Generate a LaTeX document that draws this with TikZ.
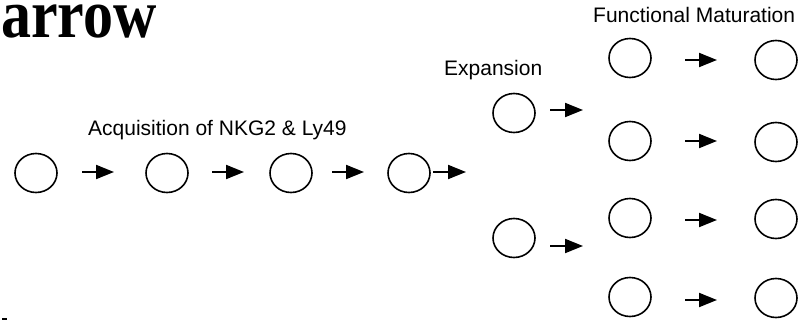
\documentclass[tikz,border=0pt]{standalone}
\usepackage{fontspec}
\newfontfamily\hv{Liberation Sans}
\newfontfamily\tm{Liberation Serif}
\usetikzlibrary{shapes.geometric,arrows.meta}
\tikzset{
  cell/.style={ellipse,draw,line width=1.6pt,minimum width=42pt,minimum height=39pt,inner sep=0pt},
  arr/.style={line width=2pt,-{Triangle[length=18pt,width=14pt]}},
  lbl/.style={anchor=base west,inner sep=0pt,font=\hv\fontsize{21}{24}\selectfont},
}
\begin{document}
\begin{tikzpicture}[x=1pt,y=-1pt]
\useasboundingbox (0,0) rectangle (803,321);
\node[anchor=base west,inner sep=0pt,text height=32pt,text depth=0pt,font=\tm\bfseries\fontsize{60}{66}\selectfont] (title) at (1,38) {\scalebox{1}[1.15]{arrow}};
\node[lbl] (acq) at (88,135) {Acquisition of NKG2 \& Ly49};
\node[lbl] (exp) at (444,76) {Expansion};
\node[lbl] (fun) at (593,23) {Functional Maturation};
% row 1
\node[cell] (c1) at (36,173) {};
\node[cell] (c2) at (167,173) {};
\node[cell] (c3) at (291,173) {};
\node[cell] (c4) at (409,173) {};
\coordinate (a1s) at (82,172); \coordinate (a1e) at (114,172);
\coordinate (a2s) at (212,172); \coordinate (a2e) at (244,172);
\coordinate (a3s) at (332,172); \coordinate (a3e) at (364,172);
\coordinate (a4s) at (433,172); \coordinate (a4e) at (466,172);
\draw[arr] (a1s) -- (a1e);
\draw[arr] (a2s) -- (a2e);
\draw[arr] (a3s) -- (a3e);
\draw[arr] (a4s) -- (a4e);
% expansion
\node[cell] (e1) at (514,113) {};
\node[cell] (e2) at (514,238) {};
\coordinate (b1s) at (550,110); \coordinate (b1e) at (583,110);
\coordinate (b2s) at (550,246); \coordinate (b2e) at (583,246);
\draw[arr] (b1s) -- (b1e);
\draw[arr] (b2s) -- (b2e);
% maturation
\node[cell] (m1) at (630,58) {};
\node[cell] (m2) at (630,141) {};
\node[cell] (m3) at (630,218) {};
\node[cell] (m4) at (630,297) {};
\node[cell] (f1) at (776,60) {};
\node[cell] (f2) at (776,142) {};
\node[cell] (f3) at (776,219) {};
\node[cell] (f4) at (776,298) {};
\coordinate (d1s) at (685,60); \coordinate (d1e) at (717,60);
\coordinate (d2s) at (685,141); \coordinate (d2e) at (717,141);
\coordinate (d3s) at (685,220); \coordinate (d3e) at (717,220);
\coordinate (d4s) at (685,300); \coordinate (d4e) at (717,300);
\draw[arr] (d1s) -- (d1e);
\draw[arr] (d2s) -- (d2e);
\draw[arr] (d3s) -- (d3e);
\draw[arr] (d4s) -- (d4e);
% small mark
\draw[line width=1.5pt] (2,319) -- (7,319);
\end{tikzpicture}
\end{document}
